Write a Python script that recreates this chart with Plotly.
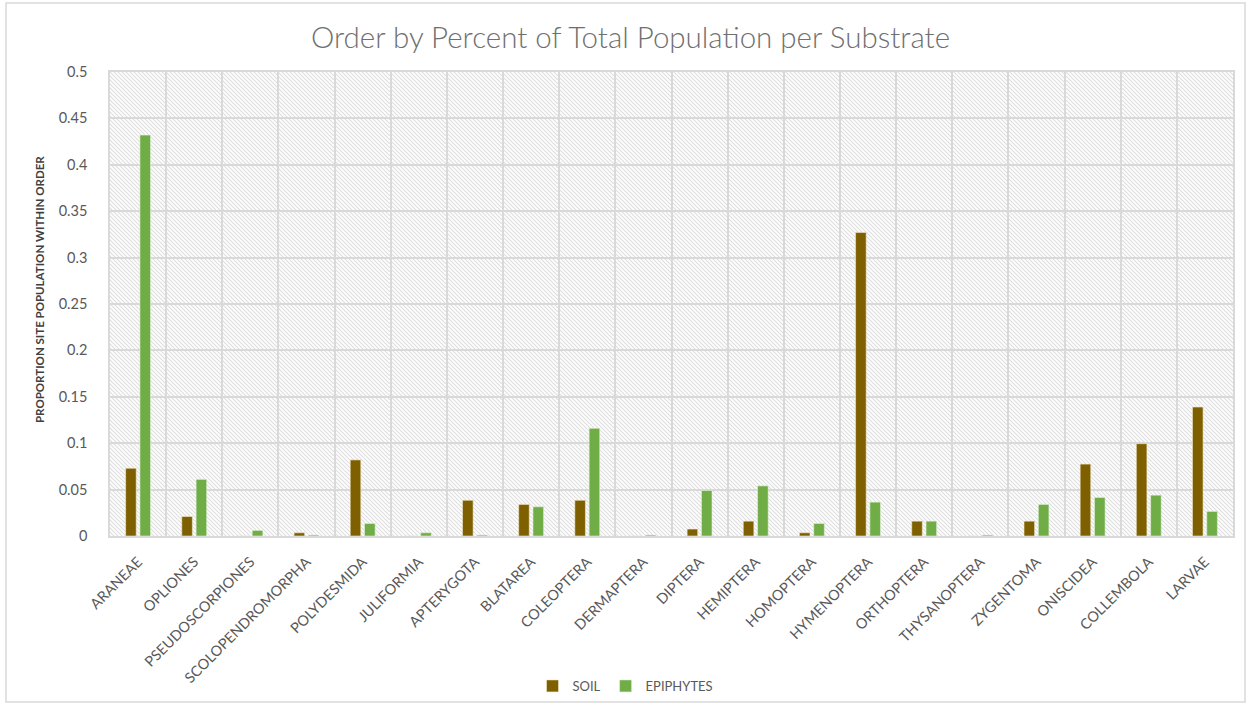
import base64
import plotly.graph_objects as go

categories = ["ARANEAE", "OPLIONES", "PSEUDOSCORPIONES", "SCOLOPENDROMORPHA", "POLYDESMIDA",
              "JULIFORMIA", "APTERYGOTA", "BLATAREA", "COLEOPTERA", "DERMAPTERA", "DIPTERA",
              "HEMIPTERA", "HOMOPTERA", "HYMENOPTERA", "ORTHOPTERA", "THYSANOPTERA", "ZYGENTOMA",
              "ONISCIDEA", "COLLEMBOLA", "LARVAE"]
soil = [0.073, 0.021, 0.0, 0.0035, 0.082, 0.0, 0.0385, 0.034, 0.0385, 0.0, 0.0075,
        0.016, 0.0035, 0.327, 0.016, 0.0, 0.016, 0.0775, 0.0995, 0.139]
epiphytes = [0.432, 0.061, 0.006, 0.001, 0.0135, 0.0035, 0.001, 0.0315, 0.116, 0.001, 0.049,
             0.054, 0.0135, 0.0365, 0.016, 0.001, 0.034, 0.0415, 0.044, 0.0265]
y_title = "PROPORTION SITE POPULATION WITHIN ORDER"

W, H = 1251, 705
L, R, T, B = 110, 18, 72, 169
PW, PH = W - L - R, H - T - B

svg = f'''<svg xmlns="http://www.w3.org/2000/svg" width="{PW}" height="{PH}" viewBox="0 0 {PW} {PH}">
<defs><pattern id="p" width="4" height="4" patternUnits="userSpaceOnUse">
<rect width="4" height="4" fill="white"/>
<path d="M-1,-1 L5,5 M-1,3 L1,5 M3,-1 L5,1" stroke="#dedede" stroke-width="1.1"/>
</pattern></defs>
<rect width="{PW}" height="{PH}" fill="url(#p)"/></svg>'''
bg = "data:image/svg+xml;base64," + base64.b64encode(svg.encode()).decode()

fig = go.Figure()
fig.add_trace(go.Bar(x=categories, y=soil, name="SOIL",
                     marker=dict(color="#7f6000", line=dict(color="#f2ead0", width=0.6))))
fig.add_trace(go.Bar(x=categories, y=epiphytes, name="EPIPHYTES",
                     marker=dict(color="#70ad47", line=dict(color="#e2f0d9", width=0.6))))


def px_x(px):
    return (px - L) / PW


def px_y(py):
    return (H - B - py) / PH


grid = "#d9d9d9"
fig.update_layout(
    width=W, height=H,
    margin=dict(l=L, r=R, t=T, b=B, autoexpand=False),
    paper_bgcolor="white", plot_bgcolor="rgba(0,0,0,0)",
    barmode="group", bargap=0.49, bargroupgap=0.26,
    font=dict(family="Lato, Open Sans, sans-serif", color="#595959"),
    title=dict(text="Order by Percent of Total Population per Substrate",
               x=0.504, xref="container", xanchor="center", y=0.947, yanchor="middle",
               font=dict(size=29.5, color="#6f6f6f", family="Lato, sans-serif", weight=300)),
    showlegend=True,
    legend=dict(orientation="h", x=0.5, xref="container", xanchor="center",
                y=0.027, yref="container", yanchor="middle",
                font=dict(size=13, color="#595959"), traceorder="normal",
                itemwidth=30, bgcolor="rgba(0,0,0,0)"),
    images=[dict(source=bg, xref="paper", yref="paper", x=0, y=1, sizex=1, sizey=1,
                 xanchor="left", yanchor="top", sizing="stretch", layer="below")],
    shapes=[dict(type="rect", xref="paper", yref="paper",
                 x0=px_x(6), x1=px_x(1245), y0=px_y(702), y1=px_y(3),
                 line=dict(color="#d9d9d9", width=1.5), fillcolor="rgba(0,0,0,0)",
                 layer="below")],
    annotations=[dict(text=f"<b>{y_title}</b>", xref="paper", yref="paper",
                      x=px_x(39), y=px_y(290), xanchor="center", yanchor="middle",
                      textangle=-90, showarrow=False,
                      font=dict(size=11.5, color="#404040", family="Lato, sans-serif"))],
)

fig.update_xaxes(type="category", tickson="boundaries", showgrid=True, gridcolor=grid,
                 gridwidth=1.5, showline=True, linecolor=grid, linewidth=1.5, mirror=True,
                 tickangle=-45, tickfont=dict(size=14.5, color="#595959"), ticks="",
                 ticklabelstandoff=10, automargin=False)
fig.update_yaxes(range=[0, 0.5], dtick=0.05, showgrid=True, gridcolor=grid, gridwidth=1.5,
                 showline=True, linecolor=grid, linewidth=1.5, mirror=True, zeroline=False,
                 tickfont=dict(size=14.5, color="#595959"), ticks="", ticklabelstandoff=18,
                 automargin=False)

fig.write_html("out.html")
